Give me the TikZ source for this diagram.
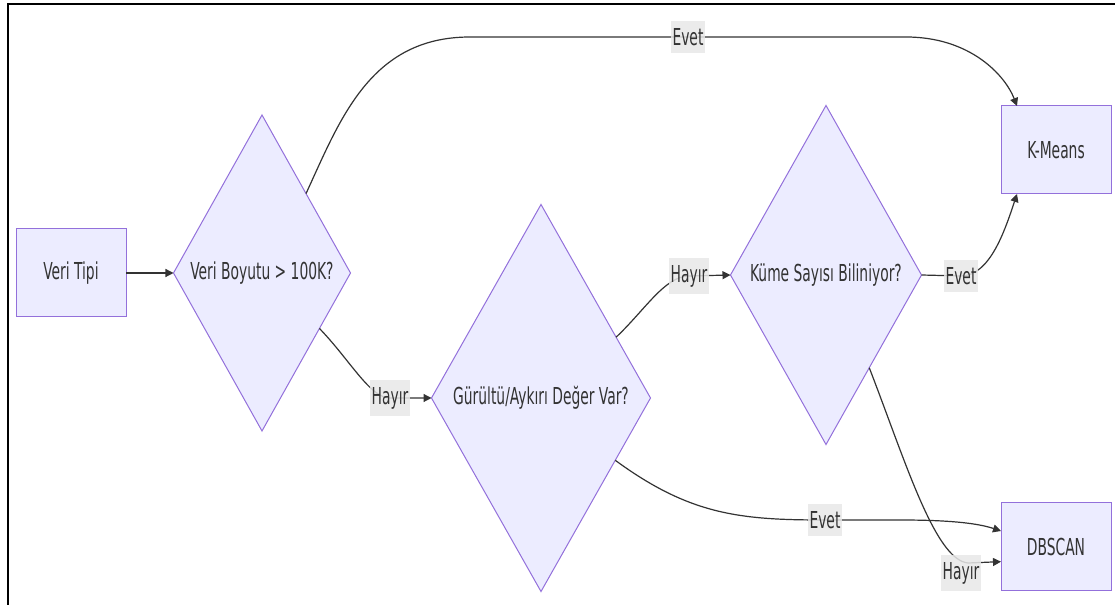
\documentclass[tikz,border=0pt]{standalone}
\usepackage{fontspec}
\setmainfont{DejaVu Sans Condensed}[FakeStretch=0.66]
\usetikzlibrary{shapes.geometric,arrows.meta}
\definecolor{nodefill}{HTML}{ECECFF}
\definecolor{nodeline}{HTML}{9370DB}
\definecolor{edgeline}{HTML}{333333}
\definecolor{labelfill}{HTML}{E8E8E8}

\begin{document}
\begin{tikzpicture}[x=0.75pt,y=-0.75pt,
  font=\fontsize{17.5}{20}\selectfont,
  every node/.style={text=edgeline,outer sep=0pt},
  box/.style={draw=nodeline,fill=nodefill,line width=0.75pt,minimum width=82.5pt,minimum height=66pt,inner sep=0pt},
  choice/.style={diamond,draw=nodeline,fill=nodefill,line width=0.75pt,inner sep=0pt},
  lbl/.style={fill=labelfill,fill opacity=0.85,text opacity=1,inner xsep=1pt,inner ysep=5.5pt},
  edge/.style={draw=edgeline,line width=0.9pt,-{Triangle[length=6pt,width=6pt]}}]
\useasboundingbox (0,0) rectangle (1115,605);
% frame
\draw[line width=1.8pt] (8,605) -- (8,4) -- (1115,4);

% nodes
\node[box] (tip) at (71,273) {Veri Tipi};
\node[choice,minimum width=132.75pt,minimum height=237pt] (size) at (262,273) {Veri Boyutu > 100K?};
\node[choice,minimum width=164.25pt,minimum height=290.25pt] (noise) at (541,398) {Gürültü/Aykırı Değer Var?};
\node[choice,minimum width=143.25pt,minimum height=254.25pt] (count) at (826,275) {Küme Sayısı Biliniyor?};
\node[box] (km) at (1056,150) {K-Means};
\node[box] (db) at (1056,547) {DBSCAN};

% edges
\draw[edge] (tip) -- (size);
\draw[edge] (size.61) .. controls (340,120) and (370,37) .. (470,37)
  -- node[lbl]{Evet} (906,37) .. controls (970,37) and (1005,75) .. ([xshift=12pt]km.north west);
\draw[edge] (size.-44) .. controls (350,360) and (370,398) .. (390,398) node[lbl]{Hayır} -- (noise.west);
\draw[edge] (noise.39) .. controls (645,310) and (665,276) .. (689,276) node[lbl]{Hayır} -- (count.west);
\draw[edge] (count.east) -- (961,276) node[lbl]{Evet} .. controls (990,276) and (1005,230) .. ([xshift=12pt]km.south west);
\draw[edge] (noise.-40) .. controls (690,515) and (740,520) .. (825,520) node[lbl]{Evet}
  -- (900,520) .. controls (955,520) and (980,524) .. ([yshift=12pt]db.west);
\draw[edge] (count.-65) .. controls (905,460) and (935,560) .. (968,563) -- ([yshift=-11pt]db.west)
  node[lbl] at (961,573) {Hayır};
\end{tikzpicture}
\end{document}
